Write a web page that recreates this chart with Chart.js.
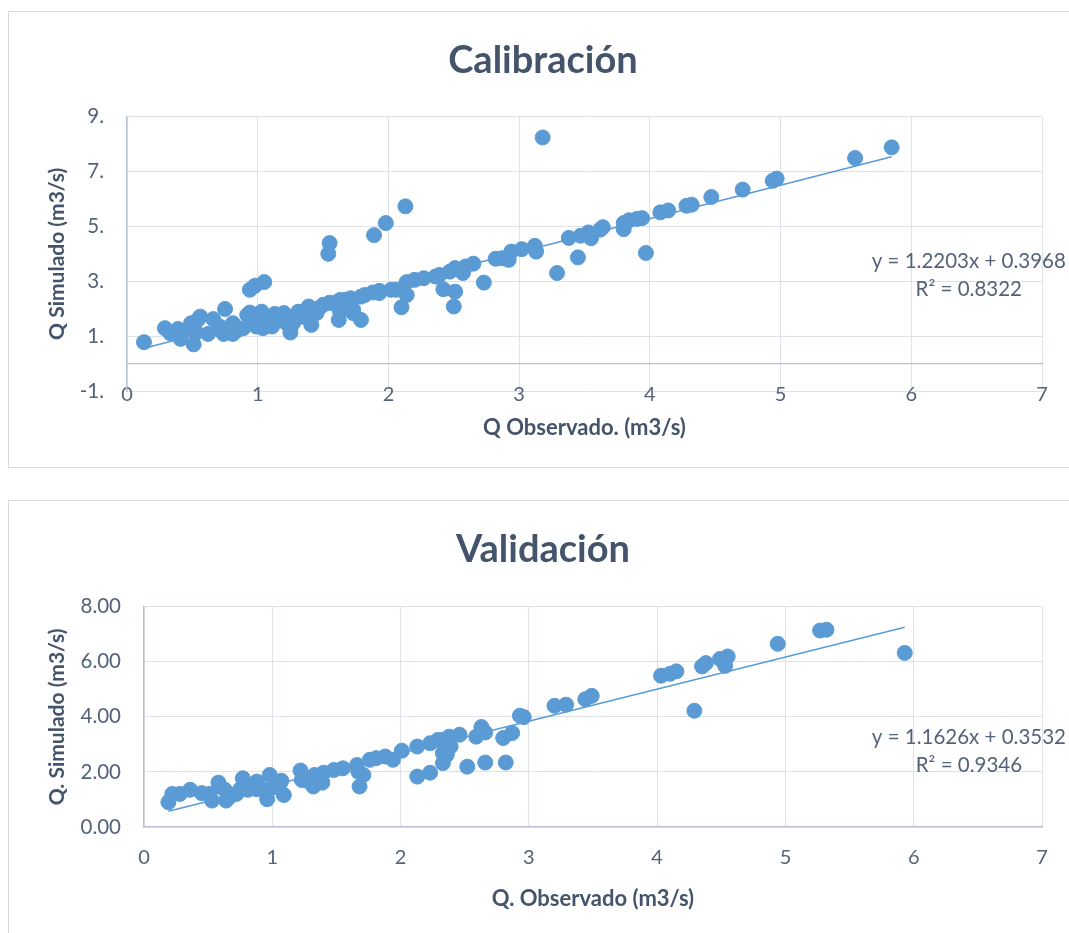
<!DOCTYPE html>
<html>
<head>
<meta charset="utf-8">
<title>Calibración / Validación</title>
<script src="https://cdn.jsdelivr.net/npm/chart.js@4.4.1/dist/chart.umd.min.js"></script>
<style>
  html, body { margin: 0; padding: 0; background: #fff; overflow: hidden; }
  body { width: 1069px; height: 933px; position: relative; }
  .chartBox { position: absolute; left: 8px; width: 1100px; border: 1px solid #d9d9d9; background: #fff; }
  #calBox { top: 11px; height: 455px; }
  #valBox { top: 500px; height: 460px; }
  canvas { position: absolute; left: 0; top: 0; }
</style>
</head>
<body>
<div class="chartBox" id="calBox"><canvas id="calChart" width="1070" height="455"></canvas></div>
<div class="chartBox" id="valBox"><canvas id="valChart" width="1070" height="440"></canvas></div>
<script>
// Calibración: Q observado vs Q simulado (m3/s)
const calObs = [
  0.13, 0.29, 0.33, 0.39, 0.41, 0.51, 0.53, 0.54, 0.56, 0.62, 0.66, 0.71, 0.75, 0.74, 0.81, 0.81,
  0.89, 0.94, 0.94, 0.98, 1.05, 0.99, 1.03, 1.04, 1.07, 1.17, 1.20, 1.25, 1.27, 1.31, 1.39, 1.39,
  1.41, 1.50, 1.54, 1.55, 1.55, 1.62, 1.63, 1.63, 1.71, 1.73, 1.79, 1.79, 1.88, 1.89, 1.93, 1.98,
  2.02, 2.10, 2.13, 2.14, 2.14, 2.20, 2.27, 2.36, 2.42, 2.39, 2.47, 2.51, 2.50, 2.57, 2.65,
  0.46, 0.49, 0.71, 0.85, 0.92, 0.98, 1.11, 1.13, 1.22, 1.34, 1.45, 1.47, 1.57, 1.67, 1.82, 1.93,
  2.06, 1.73,
  3.18, 5.57, 5.85, 4.94, 4.97, 4.71, 4.47, 4.28, 4.32, 4.08, 4.14, 3.80, 3.84, 3.90, 3.94, 3.80,
  3.64, 3.62, 3.53, 3.55, 3.47, 3.38, 3.97, 3.45, 3.29, 3.12, 3.13, 3.02, 2.94, 2.92, 2.87, 2.82,
  2.73, 2.59, 2.51
];
const calSim = [
  0.78, 1.29, 1.11, 1.26, 0.90, 0.70, 1.13, 1.59, 1.71, 1.08, 1.62, 1.35, 1.99, 1.08, 1.08, 1.47,
  1.29, 1.86, 2.69, 2.84, 2.97, 1.35, 1.89, 1.29, 1.59, 1.59, 1.84, 1.13, 1.47, 1.89, 2.08, 1.69,
  1.41, 2.14, 4.00, 4.39, 2.22, 1.59, 1.89, 2.32, 2.38, 1.96, 1.59, 2.44, 2.59, 4.68, 2.65, 5.12,
  2.69, 2.05, 5.73, 2.97, 2.50, 3.05, 3.11, 3.17, 2.71, 3.23, 3.35, 2.62, 2.08, 3.30, 3.64,
  1.23, 1.47, 1.23, 1.23, 1.77, 1.47, 1.35, 1.81, 1.47, 1.71, 1.84, 2.02, 2.20, 2.32, 2.50, 2.57,
  2.69, 1.84,
  8.24, 7.49, 7.88, 6.66, 6.74, 6.34, 6.07, 5.75, 5.79, 5.51, 5.58, 5.12, 5.22, 5.27, 5.30, 4.90,
  4.97, 4.88, 4.78, 4.57, 4.66, 4.58, 4.03, 3.87, 3.30, 4.29, 4.08, 4.17, 4.08, 3.78, 3.84, 3.82,
  2.95, 3.54, 3.48
];
const calSlope = 1.2203;
const calIntercept = 0.3968;
const calEquation = ['y = 1.2203x + 0.3968', 'R² = 0.8322'];
const calXTicks = ['0', '1', '2', '3', '4', '5', '6', '7'];
const calYTicks = ['-1.', '1.', '3.', '5.', '7.', '9.'];

// Validación
const valObs = [
  0.19, 0.22, 0.28, 0.36, 0.45, 0.51, 0.53, 0.58, 0.59, 0.63, 0.64, 0.67, 0.72, 0.77, 0.81, 0.88,
  0.88, 0.96, 0.98, 0.94, 1.06, 1.07, 1.09, 1.02, 1.22, 1.23, 1.27, 1.33, 1.39, 1.40, 1.48, 1.55,
  1.66, 1.68, 1.71, 1.67, 1.76, 1.88, 1.94, 2.01, 2.13, 2.23, 2.13, 2.23, 2.33, 2.29, 1.81, 1.32,
  0.75,
  5.93, 5.32, 5.27, 4.94, 4.55, 4.49, 4.53, 4.38, 4.35, 4.15, 4.10, 4.03, 4.29, 3.49, 3.44, 3.29,
  3.20, 2.96, 2.93, 2.87, 2.80, 2.82, 2.66, 2.52, 2.63, 2.66, 2.59, 2.46, 2.38, 2.39, 2.36, 2.33,
  2.33
];
const valSim = [
  0.90, 1.20, 1.20, 1.35, 1.23, 1.20, 0.96, 1.61, 1.47, 1.35, 0.96, 1.10, 1.20, 1.77, 1.35, 1.65,
  1.37, 1.01, 1.89, 1.35, 1.59, 1.68, 1.16, 1.44, 2.05, 1.71, 1.68, 1.89, 1.61, 1.97, 2.07, 2.13,
  2.25, 1.47, 1.89, 2.01, 2.44, 2.56, 2.44, 2.77, 1.83, 1.97, 2.92, 3.04, 2.68, 3.16, 2.50, 1.47,
  1.37,
  6.32, 7.16, 7.13, 6.65, 6.19, 6.10, 5.85, 5.95, 5.83, 5.65, 5.56, 5.49, 4.22, 4.76, 4.64, 4.44,
  4.40, 3.99, 4.04, 3.41, 3.23, 2.34, 2.34, 2.19, 3.63, 3.43, 3.28, 3.35, 3.28, 2.92, 2.62, 2.32,
  3.16
];
const valSlope = 1.1626;
const valIntercept = 0.3532;
const valEquation = ['y = 1.1626x + 0.3532', 'R² = 0.9346'];
const valXTicks = ['0', '1', '2', '3', '4', '5', '6', '7'];
const valYTicks = ['0.00', '2.00', '4.00', '6.00', '8.00'];

const markerColor = '#5b9bd5';
const textColor = '#44546a';
const tickColor = '#55627a';
const gridColor = '#dde2e9';
const axisColor = '#b7c0cc';

Chart.defaults.font.family = 'Lato, "Open Sans", sans-serif';

// Draw the trendline equation and R² next to the plot
const trendLabelPlugin = {
  id: 'trendLabel',
  afterDatasetsDraw(chart, args, opts) {
    const { ctx, scales } = chart;
    const cx = scales.x.getPixelForValue(opts.at[0]);
    ctx.save();
    ctx.fillStyle = tickColor;
    ctx.font = '20.5px Lato, "Open Sans", sans-serif';
    ctx.textAlign = 'center';
    ctx.textBaseline = 'middle';
    ctx.fillText(opts.lines[0], cx, scales.y.getPixelForValue(opts.at[1]));
    ctx.fillText(opts.lines[1], cx, scales.y.getPixelForValue(opts.at[2]));
    ctx.restore();
  }
};

function buildPoints(xs, ys) {
  return xs.map((x, i) => ({ x: x, y: ys[i] }));
}

function buildTrend(xs, slope, intercept) {
  const lo = Math.min(...xs);
  const hi = Math.max(...xs);
  return [lo, hi].map(x => ({ x: x, y: slope * x + intercept }));
}

function makeChart(canvasId, cfg) {
  return new Chart(document.getElementById(canvasId), {
    type: 'scatter',
    data: {
      datasets: [
        {
          type: 'line',
          data: buildTrend(cfg.obs, cfg.slope, cfg.intercept),
          borderColor: markerColor,
          borderWidth: 1.5,
          pointRadius: 0,
          fill: false,
          order: 0
        },
        {
          data: buildPoints(cfg.obs, cfg.sim),
          backgroundColor: markerColor,
          borderColor: markerColor,
          borderWidth: 1,
          pointRadius: 7.5,
          order: 1
        }
      ]
    },
    options: {
      responsive: false,
      animation: false,
      events: [],
      layout: { padding: { left: 35, right: 37, top: 0, bottom: cfg.padBottom } },
      plugins: {
        legend: { display: false },
        tooltip: { enabled: false },
        title: {
          display: true,
          text: cfg.title,
          color: textColor,
          font: { size: 38, weight: 'bold' },
          padding: { top: cfg.titleTop, bottom: cfg.titleBottom }
        },
        trendLabel: { lines: cfg.equation, at: cfg.labelAt }
      },
      scales: {
        x: {
          type: 'linear',
          position: { y: 0 },
          min: 0,
          max: 7,
          ticks: {
            stepSize: 1,
            padding: 19,
            color: tickColor,
            font: { size: 20 },
            callback: (v, i) => cfg.xTicks[i]
          },
          grid: { color: gridColor, drawTicks: false },
          border: { color: axisColor, width: 1.3 },
          title: {
            display: true,
            text: cfg.xTitle,
            color: textColor,
            font: { size: 22, weight: 'bold' },
            padding: { top: cfg.xTitleTop, bottom: 0 }
          }
        },
        y: {
          type: 'linear',
          min: cfg.yMin,
          max: cfg.yMax,
          ticks: {
            stepSize: 2,
            padding: 23,
            color: tickColor,
            font: { size: 20.5 },
            callback: (v, i) => cfg.yTicks[i]
          },
          grid: { color: gridColor, drawTicks: false },
          border: { color: axisColor, width: 1.3 },
          title: {
            display: true,
            text: cfg.yTitle,
            color: textColor,
            font: { size: 21, weight: 'bold' },
            padding: { top: 1, bottom: 0 }
          },
          afterFit: scale => { scale.width = cfg.yWidth; }
        }
      }
    },
    plugins: [trendLabelPlugin]
  });
}

makeChart('calChart', {
  title: 'Calibración',
  obs: calObs, sim: calSim,
  slope: calSlope, intercept: calIntercept,
  equation: calEquation, labelAt: [6.44, 3.71, 2.69],
  xTicks: calXTicks, yTicks: calYTicks,
  yMin: -1, yMax: 9,
  xTitle: 'Q Observado. (m3/s)', yTitle: 'Q Simulado (m3/s)',
  yWidth: 83, padBottom: 76,
  titleTop: 26, titleBottom: 33, xTitleTop: -11
});

makeChart('valChart', {
  title: 'Validación',
  obs: valObs, sim: valSim,
  slope: valSlope, intercept: valIntercept,
  equation: valEquation, labelAt: [6.43, 3.27, 2.22],
  xTicks: valXTicks, yTicks: valYTicks,
  yMin: 0, yMax: 8,
  xTitle: 'Q. Observado (m3/s)', yTitle: 'Q. Simulado (m3/s)',
  yWidth: 100, padBottom: 114,
  titleTop: 26, titleBottom: 34, xTitleTop: -3
});
</script>
</body>
</html>
